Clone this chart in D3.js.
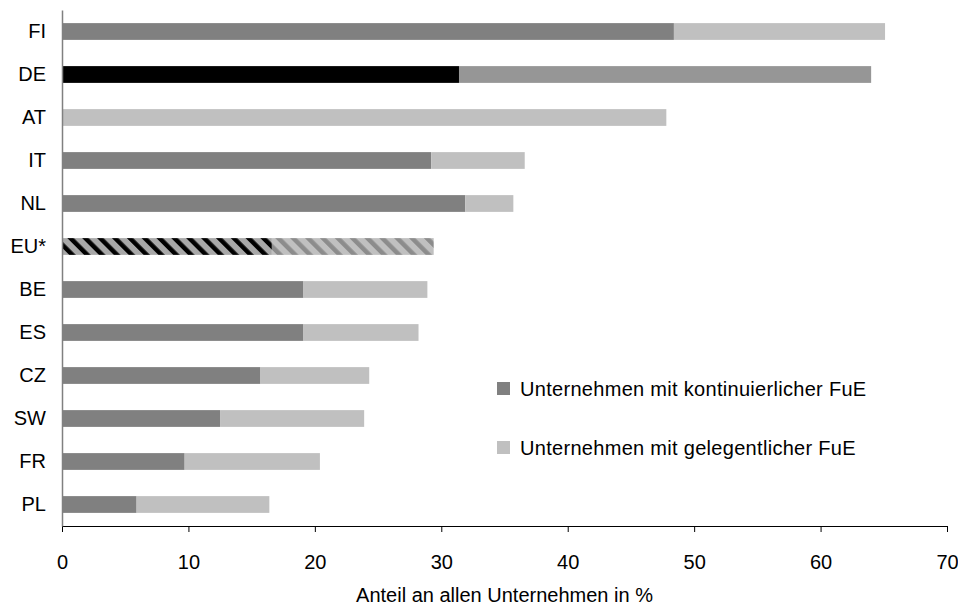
<!DOCTYPE html>
<html>
<head>
<meta charset="utf-8">
<script src="https://cdn.jsdelivr.net/npm/d3@7"></script>
<style>
  body { margin: 0; background: #fff; }
  text { font-family: "Liberation Sans", Arial, sans-serif; fill: #000; }
</style>
</head>
<body>
<script>
// countries top to bottom
let countries = ['FI', 'DE', 'AT', 'IT', 'NL', 'EU*', 'BE', 'ES', 'CZ', 'SW', 'FR', 'PL'];
// continuous R&D share (first segment)
let kontinuierlich = [48.4, 31.4, 0, 29.2, 31.9, 16.6, 19.1, 19.1, 15.7, 12.5, 9.7, 5.9];
// occasional R&D share (second segment, stacked)
let gelegentlich = [16.7, 32.6, 47.8, 7.4, 3.8, 12.8, 9.8, 9.1, 8.6, 11.4, 10.7, 10.5];
let xTicks = [0, 10, 20, 30, 40, 50, 60, 70];
let legendLabels = ['Unternehmen mit kontinuierlicher FuE', 'Unternehmen mit gelegentlicher FuE'];

let W = 958, H = 608;
let margin = {top: 10, right: 11, bottom: 82, left: 62};
let width = W - margin.left - margin.right;
let height = H - margin.top - margin.bottom;
let fontSize = '20px';

let svg = d3.select('body').append('svg')
    .attr('width', W)
    .attr('height', H);

// stripe patterns for EU*
let defs = svg.append('defs');
function stripes(id, bg, fg) {
  let p = defs.append('pattern')
      .attr('id', id)
      .attr('patternUnits', 'userSpaceOnUse')
      .attr('width', 10.5)
      .attr('height', 10.5)
      .attr('patternTransform', 'rotate(-45)');
  p.append('rect').attr('width', 10.5).attr('height', 10.5).attr('fill', bg);
  p.append('rect').attr('width', 4.5).attr('height', 10.5).attr('fill', fg);
}
stripes('euDark', '#a8a8a8', '#000');
stripes('euLight', '#c0c0c0', '#8c8c8c');

let g = svg.append('g')
    .attr('transform', 'translate(' + margin.left + ',' + margin.top + ')');

let xScale = d3.scaleLinear()
    .domain([0, 70])
    .range([0, 885]);

let yScale = d3.scaleBand()
    .domain(countries)
    .range([0, height])
    .paddingInner(0.61)
    .paddingOuter(0.305);

let rows = countries.map(function(c, i) {
  return {name: c, k: kontinuierlich[i], gl: gelegentlich[i]};
});

function fill1(d) {
  if (d.name === 'DE') return '#000';
  if (d.name === 'EU*') return 'url(#euDark)';
  return '#808080';
}
function fill2(d) {
  if (d.name === 'DE') return '#969696';
  if (d.name === 'EU*') return 'url(#euLight)';
  return '#c0c0c0';
}

g.selectAll('.bar1')
    .data(rows)
  .enter().append('rect')
    .attr('class', 'bar1')
    .attr('x', xScale(0))
    .attr('y', function(d) { return yScale(d.name); })
    .attr('width', function(d) { return xScale(d.k) - xScale(0); })
    .attr('height', yScale.bandwidth())
    .attr('fill', fill1);

g.selectAll('.bar2')
    .data(rows)
  .enter().append('rect')
    .attr('class', 'bar2')
    .attr('x', function(d) { return xScale(d.k); })
    .attr('y', function(d) { return yScale(d.name); })
    .attr('width', function(d) { return xScale(d.k + d.gl) - xScale(d.k); })
    .attr('height', yScale.bandwidth())
    .attr('fill', fill2);

// x axis
let xAxis = d3.axisBottom(xScale)
    .tickValues(xTicks)
    .tickSize(6)
    .tickPadding(23);

let gx = g.append('g')
    .attr('transform', 'translate(0,' + height + ')')
    .call(xAxis);
gx.select('.domain').attr('stroke', '#000').attr('d', 'M0,0.5H885');
gx.selectAll('.tick line').attr('stroke', '#000');
gx.selectAll('text').style('font-size', fontSize);

// y axis
let yAxis = d3.axisLeft(yScale)
    .tickSize(0)
    .tickPadding(16);
let gy = g.append('g').call(yAxis);
gy.select('.domain').attr('stroke', '#808080').attr('stroke-width', 1.5);
gy.selectAll('text').style('font-size', fontSize);

// axis title
svg.append('text')
    .attr('x', margin.left + 885 / 2)
    .attr('y', 602)
    .attr('text-anchor', 'middle')
    .style('font-size', fontSize)
    .text('Anteil an allen Unternehmen in %');

// legend
let legend = svg.selectAll('.legend')
    .data(legendLabels)
  .enter().append('g')
    .attr('class', 'legend')
    .attr('transform', function(d, i) { return 'translate(497,' + (382 + i * 59) + ')'; });
legend.append('rect')
    .attr('width', 13)
    .attr('height', 13)
    .attr('fill', function(d, i) { return i === 0 ? '#808080' : '#c0c0c0'; });
legend.append('text')
    .attr('x', 23)
    .attr('y', 13.5)
    .style('font-size', fontSize)
    .style('letter-spacing', '0.3px')
    .text(function(d) { return d; });
</script>
</body>
</html>
